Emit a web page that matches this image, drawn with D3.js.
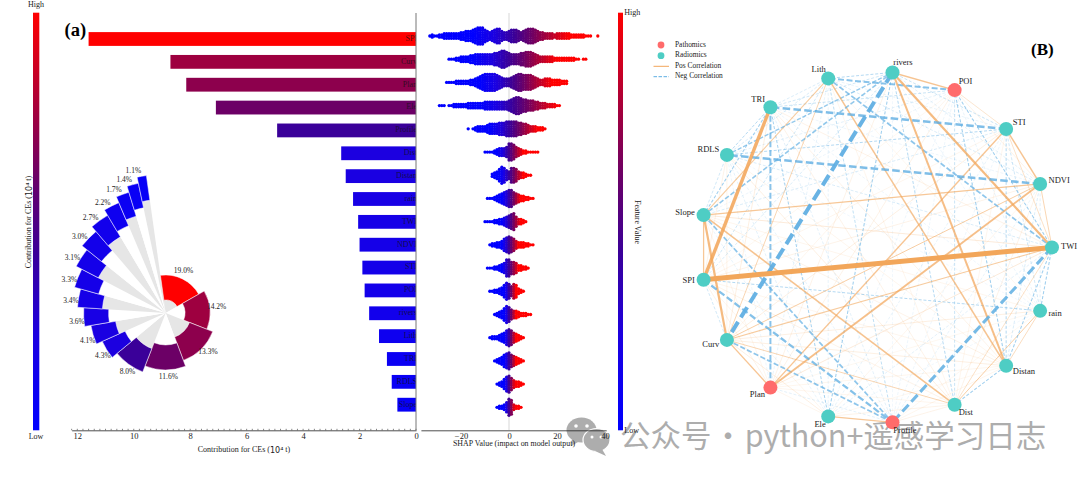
<!DOCTYPE html>
<html><head><meta charset="utf-8">
<script src="https://cdnjs.cloudflare.com/ajax/libs/d3/7.8.5/d3.min.js"></script>
<style>html,body{margin:0;padding:0;background:#fff}svg{display:block}text{font-family:"Liberation Serif",serif;fill:#222}</style>
</head><body><svg id="c" width="1080" height="480"></svg>
<script>
// ---------- data ----------
const features = ["SPI","Curv","Plan","Ele","Profile","Dist","Distan","rain","TWI","NDVI","STI","POI","rivers","Lith","TRI","RDLS","Slope"];
const contributions = [11.6,8.7,8.14,7.09,4.92,2.65,2.49,2.23,2.05,2.0,1.9,1.82,1.66,1.31,1.03,0.86,0.66];
const percentLabels = ["19.0%","14.2%","13.3%","11.6%","8.0%","4.3%","4.1%","3.6%","3.4%","3.3%","3.1%","3.0%","2.7%","2.2%","1.7%","1.4%","1.1%"];
const contributionTicks = [0,2,4,6,8,10,12];
const shapTicks = [-20,0,20,40];
// beeswarm: first SHAP bin of each feature, then number of dots per 1-unit SHAP bin
const swarmStart = [-33,-25,-26,-29,-17,-10,-7,-9,-10,-8,-9,-8,-6,-8,-6,-5,-5];
const swarmCounts = [
 [1,2,1,1,2,2,3,3,3,3,3,3,3,4,4,5,5,5,6,7,8,8,8,6,5,4,5,6,7,7,5,4,4,5,6,6,6,5,4,5,6,7,7,7,6,5,4,4,3,3,3,3,2,3,3,3,3,3,3,2,2,2,2,2,2,1,1,1,0,0,1],
 [1,1,1,2,2,3,3,3,3,4,4,5,5,5,5,5,5,5,5,6,6,7,8,8,7,6,5,5,5,5,6,6,7,7,7,6,5,4,3,3,3,3,3,3,2,2,2,2,2,2,2,2,2,1,1,0,1,1],
 [1,1,1,1,2,2,2,2,2,2,3,3,4,5,6,7,8,8,8,8,8,7,6,5,4,4,4,5,6,7,8,8,7,7,7,7,6,5,4,3,3,4,4,4,3,3,3,3,2,2,2],
 [1,1,1,0,1,1,2,2,2,2,2,2,3,3,3,3,3,3,3,4,4,4,4,4,4,4,4,4,4,5,6,7,8,8,7,6,6,5,5,5,4,4,3,3,3,2,2,2,2,1,1],
 [1,0,1,2,3,3,3,3,4,5,5,5,5,6,6,6,7,7,7,7,7,6,6,5,5,4,3,3,3,2,2,2,1],
 [1,1,1,1,2,3,4,4,4,5,8,8,7,5,4,3,2,2,1,1,1,1,1],
 [2,3,4,6,8,7,5,4,7,7,6,4,3,3,2,1,1],
 [1,1,1,2,3,4,5,6,7,8,8,6,5,4,3,3,2,2,1,1],
 [1,1,1,1,2,2,3,3,4,5,6,7,8,5,3,3,2,1],
 [1,2,2,3,3,4,6,7,8,7,6,4,3,3,3,2,2,1,1],
 [1,1,1,2,2,3,4,5,8,8,6,6,5,3,3,2,2,1],
 [1,1,2,2,3,4,6,8,7,5,7,6,3,2,1],
 [1,2,3,4,6,8,7,5,4,4,3,2,2,2,1,1],
 [1,2,2,2,3,4,5,7,8,7,5,4,3,2,1],
 [1,2,3,4,6,7,8,6,5,4,3,2,1],
 [1,2,3,5,7,8,6,4,3,3,2,1],
 [1,2,2,3,5,8,7,3,2,2,1]
];
const swarmLow  = [-15,-15,-12,-12,-8,-5,-4,-3,-3,-3,-3,-2,-2,-2,-2,-2,-2];
const swarmHigh = [25,20,18,20,12,6,6,5,5,4,4,3,3,3,3,2.5,2.5];
const colorStops = ["#0000ff","#1c00e0","#3a0099","#6c0066","#9e0040","#ff0000"];
const colorStopAt = [0,0.228,0.424,0.61,0.75,1];

const nodes = ["TWI","NDVI","STI","POI","rivers","Lith","TRI","RDLS","Slope","SPI","Curv","Plan","Ele","Profile","Dist","Distan","rain"];
const pathomics = ["POI","Plan","Profile"];
// upper-triangular correlation (x100), each row pairs a node with all those after it
const corrTWI   = [25,20,-30,55,-45,10,-15,15,100,30,15,-12,-70,20,-30,-30];
const corrNDVI  = [40,10,-12,-15,-8,-60,35,10,28,48,8,-10,10,-15,-12];
const corrSTI   = [18,-20,-10,-60,-25,-15,8,12,38,-10,-8,8,-25,-18];
const corrPOI   = [40,-50,-20,-12,-8,6,8,10,-8,-8,-20,-30,-10];
const corrRivers= [-25,-18,-38,-42,-15,-85,10,-30,-6,-25,50,-8];
const corrLith  = [-15,-15,30,-18,25,-10,-10,-22,8,40,6];
const corrTRI   = [-25,-30,75,12,-50,-28,-12,10,10,-8];
const corrRDLS  = [-18,10,10,-8,-12,-10,12,8,-6];
const corrSlope = [35,55,8,-10,-45,42,10,8];
const corrSPI   = [-18,10,8,-55,10,8,-25];
const corrCurv  = [38,12,-45,25,12,12];
const corrPlan  = [8,-12,8,8,6];
const corrEle   = [35,10,6,-6];
const corrProfile = [10,8,6];
const corrDist  = [-30,28];
const corrDistan= [22];
const corrRows = [corrTWI,corrNDVI,corrSTI,corrPOI,corrRivers,corrLith,corrTRI,corrRDLS,corrSlope,corrSPI,corrCurv,corrPlan,corrEle,corrProfile,corrDist,corrDistan];

// ---------- shared ----------
const svg = d3.select("#c");
const SERIF = '"Liberation Serif",serif';
const colorT = d3.scaleLinear().domain(colorStopAt).range(colorStops).clamp(true);
const contribColor = v => colorT(v/d3.max(contributions));

const defs = svg.append("defs");
const grad = defs.append("linearGradient").attr("id","cbar").attr("x1",0).attr("x2",0).attr("y1",1).attr("y2",0);
grad.selectAll("stop").data(colorStopAt).join("stop").attr("offset",d=>d).attr("stop-color",(d,i)=>colorStops[i]);

// ---------- watermark (below axis text) ----------
const wm = svg.append("g");
wm.append("text").attr("x",620).attr("y",447).attr("font-size",30.5).style("word-spacing","-5.5px").style("font-family",'"Noto Sans CJK SC","Noto Sans",sans-serif').style("fill","#adadad").text("公众号 · python+遥感学习日志");
const bub = wm.append("g").attr("fill","#adadad");
bub.append("ellipse").attr("cx",581.5).attr("cy",430).attr("rx",15).attr("ry",12.5);
bub.append("path").attr("d","M572 438 L571 446 L580 441 Z");
bub.append("ellipse").attr("cx",596.5).attr("cy",440).attr("rx",13.5).attr("ry",11.5).attr("stroke","#fff").attr("stroke-width",1.2);
bub.append("path").attr("d","M602 449 L606 456 L595 451 Z");
[[576,426,1.8],[587,426,1.8],[592,437,1.5],[601,437,1.5]].forEach(e=>bub.append("circle").attr("cx",e[0]).attr("cy",e[1]).attr("r",e[2]).attr("fill","#fff"));

// ---------- colour bars ----------
function colorbar(x,w){ svg.append("rect").attr("x",x).attr("y",12.7).attr("width",w).attr("height",417.6).attr("fill","url(#cbar)"); }
colorbar(33,6.3); colorbar(618,5);
function txt(x,y,s,size,anchor){ return svg.append("text").attr("x",x).attr("y",y).attr("font-size",size).attr("text-anchor",anchor||"middle").attr("dominant-baseline","middle").text(s); }
txt(36,5,"High",8); txt(36,437.5,"Low",8);
txt(624.3,13.3,"High",8,"start"); txt(624.3,431,"Low",8,"start");
const yl = txt(0,0,"",8).attr("transform","translate(29,222) rotate(-90)");
yl.append("tspan").text("Contribution for CEs (");
yl.append("tspan").style("font-family","DejaVu Sans").text("10⁴");
yl.append("tspan").text(" t)");
txt(0,0,"Feature Value",8).attr("transform","translate(637,222) rotate(90)");

// ---------- bars ----------
const xBar = d3.scaleLinear().domain([0,12]).range([416,77.3]);
const yBar = d3.scalePoint().domain(features).range([39,404.7]);
const barG = svg.append("g");
barG.selectAll("rect").data(features).join("rect")
  .attr("x",(d,i)=>xBar(contributions[i])).attr("y",d=>yBar(d)-6.9)
  .attr("width",(d,i)=>xBar(0)-xBar(contributions[i])).attr("height",13.8)
  .attr("fill",(d,i)=>contribColor(contributions[i]));
defs.append("clipPath").attr("id","barClip").append("rect").attr("x",300).attr("y",0).attr("width",116).attr("height",480);
barG.append("g").attr("clip-path","url(#barClip)").selectAll("text").data(features).join("text")
  .attr("x",417).attr("y",d=>yBar(d)).attr("text-anchor","end").attr("dominant-baseline","middle")
  .attr("font-size",8).attr("fill-opacity",0.75).style("fill","#111").text(d=>d);

// left axis
const axL = svg.append("g").attr("transform","translate(0,430.3)");
const xAxisDom = d3.scaleLinear().domain([0,12.2]).range([xBar(0),xBar(12.2)]);
axL.call(d3.axisBottom(xAxisDom).tickValues(contributionTicks).tickSize(0).tickPadding(3).tickFormat(d3.format("d")));
axL.selectAll("text").attr("font-size",8.5).style("font-family",SERIF);
axL.select(".domain").attr("stroke","#222").attr("stroke-width",0.8);
axL.selectAll(".mn").data(d3.range(0,12.21,0.2)).join("line").attr("class","mn")
  .attr("x1",d=>xBar(d)).attr("x2",d=>xBar(d)).attr("y1",0).attr("y2",-1.5).attr("stroke","#333").attr("stroke-width",0.6);
const xl = txt(244,450,"",8);
xl.append("tspan").text("Contribution for CEs (");
xl.append("tspan").style("font-family","DejaVu Sans").text("10⁴");
xl.append("tspan").text(" t)");
svg.append("line").attr("x1",416).attr("x2",416).attr("y1",13).attr("y2",430.3).attr("stroke","#777").attr("stroke-width",1);

// ---------- beeswarm ----------
const xShap = d3.scaleLinear().domain([-20,40]).range([461,605]);
const ySwarm = d3.scalePoint().domain(features).range([36,407.3]);
svg.append("line").attr("x1",xShap(0)).attr("x2",xShap(0)).attr("y1",13).attr("y2",430).attr("stroke","#e4e4e4").attr("stroke-width",1.5);
const dots = [];
features.forEach((f,i)=>{
  const col = d3.scaleLinear().domain([swarmLow[i],swarmHigh[i]]).range([0,1]).clamp(true);
  swarmCounts[i].forEach((c,j)=>{
    const s = swarmStart[i]+j;
    for(let k=0;k<c;k++) dots.push({f,s,off:(k-(c-1)/2),t:col(s)});
  });
});
svg.append("g").selectAll("circle").data(dots).join("circle")
  .attr("cx",d=>xShap(d.s)).attr("cy",d=>ySwarm(d.f)+d.off*2.3).attr("r",1.65)
  .attr("fill",d=>colorT(d.t));
const axS = svg.append("g").attr("transform","translate(0,430.3)");
const xShapDom = d3.scaleLinear().domain([-36.7,40.5]).range([xShap(-36.7),xShap(40.5)]);
axS.call(d3.axisBottom(xShapDom).tickValues(shapTicks).tickSize(0).tickPadding(3).tickFormat(d3.format("d")));
axS.selectAll("text").attr("font-size",8.5).style("font-family",SERIF);
axS.select(".domain").attr("stroke","#222").attr("stroke-width",0.8);
txt(514,444,"SHAP Value (impact on model output)",7.9);

// ---------- radial inset ----------
const cx=165.7, cy=313;
const inset = svg.append("g").attr("transform",`translate(${cx},${cy})`);
const start = -8*Math.PI/180;
const pie = d3.pie().sort(null).startAngle(start).endAngle(start+2*Math.PI)(contributions);
const rOuter = d3.scaleLinear().domain([0,features.length-1]).range([38,138.8]);
const band = 25;
const arc = d3.arc();
inset.selectAll(".bg").data(pie).join("path").attr("class","bg")
  .attr("d",(d,i)=>arc({innerRadius:0,outerRadius:rOuter(i)-band,startAngle:d.startAngle,endAngle:d.endAngle}))
  .attr("fill",(d,i)=>i%2?"#ffffff":"#e6e6e6");
inset.selectAll(".fg").data(pie).join("path").attr("class","fg")
  .attr("d",(d,i)=>arc({innerRadius:rOuter(i)-band,outerRadius:rOuter(i),startAngle:d.startAngle,endAngle:d.endAngle}))
  .attr("fill",(d,i)=>contribColor(contributions[i])).attr("stroke","#fff").attr("stroke-width",0.5);
inset.selectAll("text").data(pie).join("text")
  .attr("transform",(d,i)=>{const a=(d.startAngle+d.endAngle)/2-0.05,r=rOuter(i)+7;return `translate(${r*Math.sin(a)},${-r*Math.cos(a)})`;})
  .attr("text-anchor","middle").attr("dominant-baseline","middle").attr("font-size",7.5).text((d,i)=>percentLabels[i]);

// ---------- network ----------
const nc={x:876.3,y:247.4}, R=175.7;
const angle = d3.scaleLinear().domain([0,nodes.length]).range([0,2*Math.PI]);
const widthS = d3.scalePow().exponent(1.4).domain([0,100]).range([0.15,5]);
const alphaS = d3.scalePow().exponent(0.6).domain([0,100]).range([0.2,1]);
const pos = (i,r)=>[nc.x+r*Math.cos(angle(i)), nc.y-r*Math.sin(angle(i))];
const edges=[];
corrRows.forEach((row,i)=>row.forEach((v,j)=>edges.push({a:i,b:i+1+j,v})));
edges.sort((p,q)=>Math.abs(p.v)-Math.abs(q.v));
const net = svg.append("g");
net.selectAll("line").data(edges).join("line")
  .attr("x1",d=>pos(d.a,R)[0]).attr("y1",d=>pos(d.a,R)[1]).attr("x2",d=>pos(d.b,R)[0]).attr("y2",d=>pos(d.b,R)[1])
  .attr("stroke",d=>d.v>0?"#F2A65A":"#5DADE2").attr("stroke-width",d=>widthS(Math.abs(d.v)))
  .attr("stroke-opacity",d=>alphaS(Math.abs(d.v)))
  .attr("stroke-dasharray",d=>{if(d.v>0)return null;const w=widthS(-d.v);return `${Math.max(3,w*3)} ${Math.max(1.8,w*1.3)}`;});
net.selectAll("circle").data(nodes).join("circle")
  .attr("cx",(d,i)=>pos(i,R)[0]).attr("cy",(d,i)=>pos(i,R)[1]).attr("r",7)
  .attr("fill",d=>pathomics.includes(d)?"#FF6B6B":"#4ECDC4");
net.selectAll("text").data(nodes).join("text")
  .attr("x",(d,i)=>pos(i,R+9)[0]).attr("y",(d,i)=>pos(i,R+9)[1])
  .attr("text-anchor",(d,i)=>Math.cos(angle(i))>=0?"start":"end").attr("dominant-baseline","middle")
  .attr("font-size",8.5).text(d=>d);

// legend
const lg = svg.append("g");
lg.append("circle").attr("cx",661).attr("cy",45).attr("r",3.4).attr("fill","#FF6B6B");
lg.append("circle").attr("cx",661).attr("cy",55.7).attr("r",3.4).attr("fill","#4ECDC4");
lg.append("line").attr("x1",653.5).attr("x2",669).attr("y1",66.3).attr("y2",66.3).attr("stroke","#F2A65A").attr("stroke-width",1);
lg.append("line").attr("x1",653.5).attr("x2",669).attr("y1",76.7).attr("y2",76.7).attr("stroke","#5DADE2").attr("stroke-width",1).attr("stroke-dasharray","3.5 1.5");
[["Pathomics",45],["Radiomics",55.7],["Pos Correlation",66.3],["Neg Correlation",76.7]].forEach(e=>txt(675,e[1],e[0],7.4,"start"));

// panel letters
svg.append("text").attr("x",64.5).attr("y",36).attr("font-size",18.5).attr("font-weight","bold").style("fill","#000").text("(a)");
svg.append("text").attr("x",1031).attr("y",55).attr("font-size",17).attr("font-weight","bold").style("fill","#000").text("(B)");
</script></body></html>
